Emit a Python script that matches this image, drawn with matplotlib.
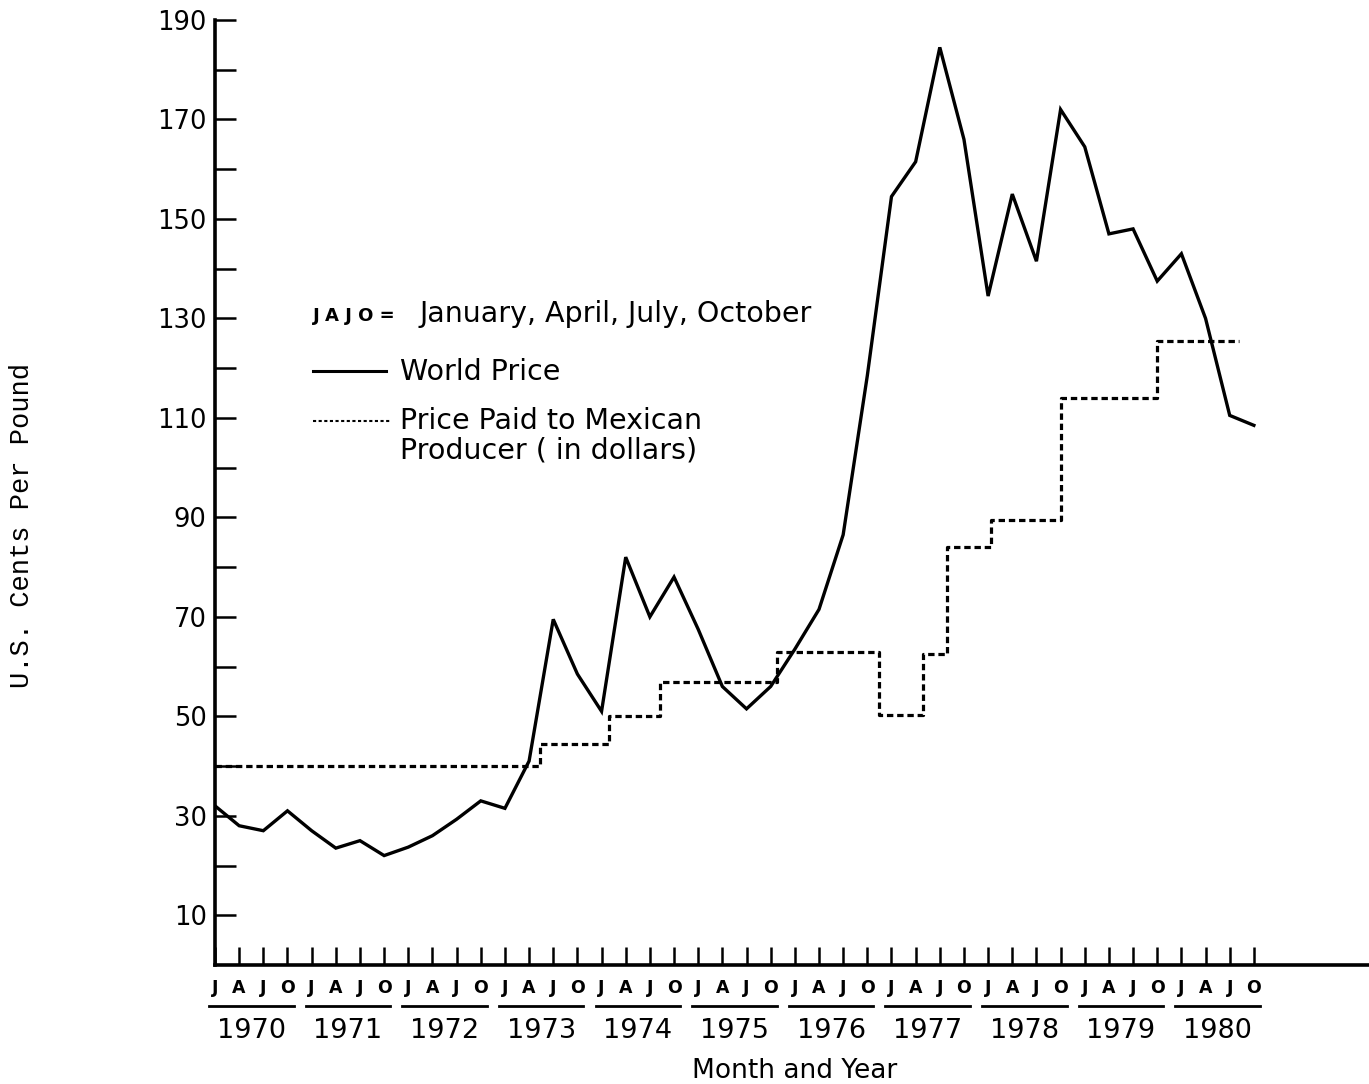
import numpy as np
import matplotlib
matplotlib.use("Agg")
import matplotlib.pyplot as plt
import matplotlib.transforms as mtransforms
from matplotlib.lines import Line2D

# quarter index: 0 = January 1970 ... 43 = October 1980
quarters = np.arange(44)
world_price = [32, 28, 27, 31, 27, 23.5, 25, 22, 23.7, 26, 29.3, 33, 31.5, 41,
               69.5, 58.5, 51, 82, 70, 78, 67.5, 56, 51.5, 56, 63.5, 71.5, 86.5, 118.5,
               154.5, 161.5, 184.5, 166, 134.5, 155, 141.5, 172, 164.5, 147, 148, 137.5,
               143, 130, 110.5, 108.5]

# price paid to mexican producer: start of each level (in quarters) and level
producer_from = [0, 13.45, 16.3, 18.4, 23.25, 27.5, 29.3, 30.3, 32.1, 35.0, 39.0]
producer_price = [40, 44.5, 50, 57, 63, 50.3, 62.5, 84, 89.5, 114, 125.5]
producer_end = 42.4

years = list(range(1970, 1981))
quarter_letters = ["J", "A", "J", "O"]

W, H = 1369, 1084
fig = plt.figure(figsize=(W / 100, H / 100), dpi=100)
ax = fig.add_axes([215 / W, 1 - 965 / H, 1 - 215 / W, 945 / H])

ax.plot(quarters, world_price, color="black", lw=2.4, solid_joinstyle="miter")
ax.step(producer_from + [producer_end], producer_price + [producer_price[-1]],
        where="post", color="black", lw=2.3, linestyle=(0, (2.0, 1.2)))

ax.set_xlim(0, (W - 215) / 24.16)
ax.set_ylim(0, 190)

for s in ["top", "right"]:
    ax.spines[s].set_visible(False)
ax.spines["left"].set_linewidth(2.6)
ax.spines["bottom"].set_linewidth(2.6)
ax.spines["left"].set_bounds(0, 190)

ax.set_yticks(range(10, 191, 20))
ax.set_yticks(range(20, 190, 20), minor=True)
ax.tick_params(axis="y", which="both", direction="in", length=15, width=1.8,
               labelsize=18.5, pad=6)

ax.set_xticks(quarters)
ax.set_xticklabels(quarter_letters * len(years), fontsize=12.5, fontweight="bold")
ax.tick_params(axis="x", direction="in", length=13, width=1.8, pad=10)

# year bars and labels under the quarter letters
trans = mtransforms.blended_transform_factory(ax.transData, fig.transFigure)
for i, yr in enumerate(years):
    q0 = 4 * i
    ax.plot([q0 - 0.25, q0 + 3.25], [1 - 1006 / H] * 2, transform=trans,
            color="black", lw=2, clip_on=False)
    ax.text(q0 + 1.5, 1 - 1031 / H, str(yr), transform=trans, ha="center",
            va="center", fontsize=19.5)
ax.text(24, 1 - 1071 / H, "Month and Year", transform=trans, ha="center",
        va="center", fontsize=19)

fig.text(22 / W, 1 - 526 / H, "U.S. Cents Per Pound", rotation=90, ha="center",
         va="center", family="Liberation Mono", fontsize=19.5)

# key
fig.text(313 / W, 1 - 316 / H, "J A J O =", fontsize=13, fontweight="bold",
         va="center")
fig.text(419 / W, 1 - 314 / H, "January, April, July, October", fontsize=20.5,
         va="center")
fig.add_artist(Line2D([313 / W, 386 / W], [1 - 371 / H] * 2, color="black", lw=2.2))
fig.text(400 / W, 1 - 372 / H, "World Price", fontsize=20.5, va="center")
fig.add_artist(Line2D([313 / W, 390 / W], [1 - 421 / H] * 2, color="black", lw=1.5,
                      linestyle=(0, (1.5, 1.2))))
fig.text(400 / W, 1 - 421 / H, "Price Paid to Mexican", fontsize=20.5, va="center")
fig.text(400 / W, 1 - 450 / H, "Producer ( in dollars)", fontsize=20.5, va="center")

fig.savefig("out.png", dpi=100)
